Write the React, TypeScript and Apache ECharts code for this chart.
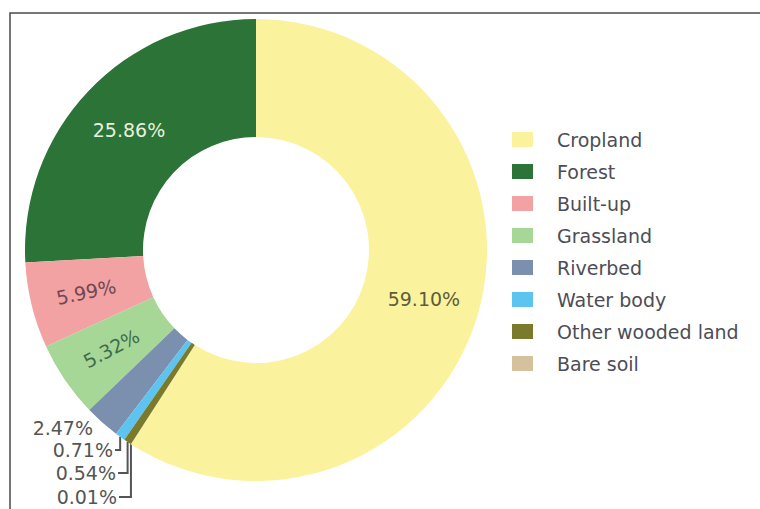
import React, { useEffect, useRef } from "react";
import * as echarts from "echarts";

const categories = [
  "Cropland",
  "Forest",
  "Built-up",
  "Grassland",
  "Riverbed",
  "Water body",
  "Other wooded land",
  "Bare soil",
];
const values = [59.1, 25.86, 5.99, 5.32, 2.47, 0.71, 0.54, 0.01];
const colors = [
  "#fbf29d",
  "#2b7337",
  "#f2a2a2",
  "#a6d796",
  "#7b8fae",
  "#5cc4ee",
  "#7a7a2c",
  "#d5c29c",
];
const labelColors = ["#5e5c3c", "#e9f1dc", "#704852", "#3f6c4c", "#555", "#555", "#555", "#555"];
const labelRotate = [0, 0, 12, 28, 0, 0, 0, 0];

// layout of the small outside labels: [right edge x, center y]
const outsideLabelPos: Record<number, [number, number]> = {
  4: [93, 428],
  5: [113, 450],
  6: [116, 473],
  7: [117, 497],
};

const FONT = "DejaVu Sans, Verdana, sans-serif";

export default function App() {
  const ref = useRef<HTMLDivElement>(null);
  useEffect(() => {
    if (!ref.current) return;
    const chart = echarts.init(ref.current, undefined, { renderer: "svg" });
    const sum = values.reduce((a, b) => a + b, 0);
    const startAngle = 90 - (values[0] / sum) * 360 + 360;
    const data = categories.map((name, i) => {
      const small = i >= 4;
      return {
        name,
        value: values[i],
        itemStyle: { color: colors[i] },
        label: {
          position: small ? "outside" : "inside",
          color: labelColors[i],
          rotate: labelRotate[i],
        },
        labelLine: { show: small && i > 4 },
      };
    });
    chart.setOption({
      animation: false,
      graphic: [
        {
          type: "polyline",
          shape: { points: [[10, 520], [10, 13], [770, 13]] },
          style: { stroke: "#4a4a4a", lineWidth: 1.5, fill: null },
          silent: true,
        },
      ],
      legend: {
        orient: "vertical",
        left: 507,
        top: 125,
        itemWidth: 21,
        itemHeight: 15,
        itemGap: 13,
        icon: "rect",
        data: categories,
        selectedMode: false,
        textStyle: {
          fontFamily: FONT,
          fontSize: 19,
          color: "#4d4d57",
          padding: [0, 0, 0, 19],
        },
      },
      series: [
        {
          type: "pie",
          center: [256, 250],
          radius: [113, 231],
          clockwise: false,
          startAngle,
          avoidLabelOverlap: false,
          emphasis: { disabled: true },
          label: {
            show: true,
            fontFamily: FONT,
            fontSize: 19,
            formatter: (p: any) => p.value.toFixed(2) + "%",
          },
          labelLine: {
            length: 10,
            length2: 10,
            lineStyle: { color: "#555", width: 2 },
          },
          labelLayout: (params: any) => {
            const pos = outsideLabelPos[params.dataIndex];
            if (!pos) return {};
            const [rx, cy] = pos;
            const p0 = params.labelLinePoints ? params.labelLinePoints[0] : [rx, cy];
            return {
              x: rx,
              y: cy,
              align: "right",
              verticalAlign: "middle",
              labelLinePoints: [p0, [p0[0], cy], [rx + 2, cy]],
            };
          },
          data,
        },
      ],
    });
    return () => chart.dispose();
  }, []);
  return (
    <div
      ref={ref}
      style={{ position: "fixed", left: 0, top: 0, width: 760, height: 509, background: "#fff" }}
    />
  );
}
